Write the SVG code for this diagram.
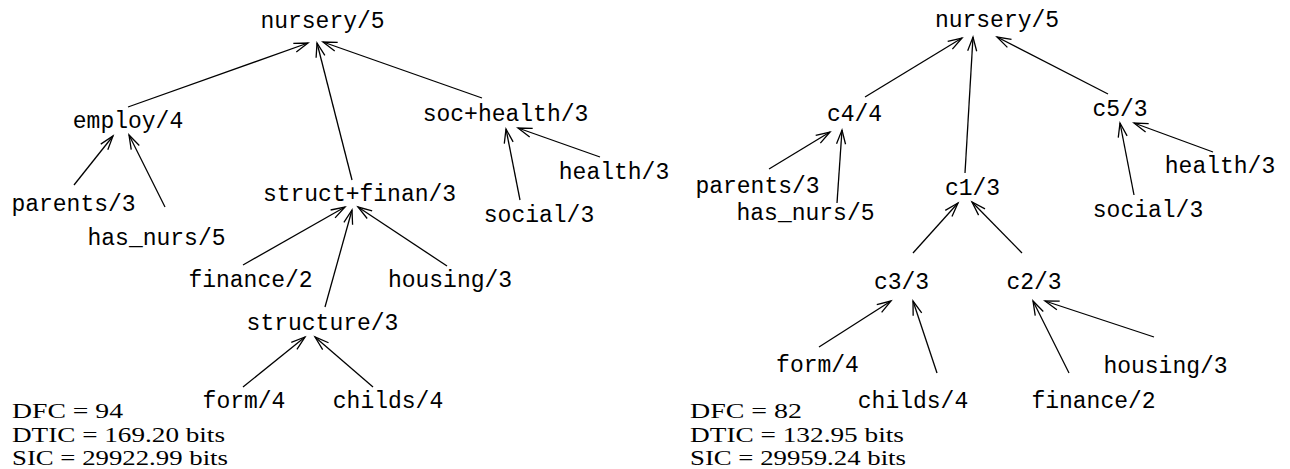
<svg xmlns="http://www.w3.org/2000/svg" width="1290" height="469" viewBox="0 0 1290 469">
<style>
.n{font-family:"Liberation Mono","DejaVu Sans Mono",monospace;font-size:23px;fill:#000;text-anchor:middle}
.s{font-family:"Liberation Serif","DejaVu Serif",serif;font-size:20.5px;fill:#000}
.e line{stroke:#000;stroke-width:1.3;marker-end:url(#ah)}
</style>
<defs>
<marker id="ah" markerUnits="userSpaceOnUse" markerWidth="20" markerHeight="16" viewBox="-16 -8 20 16" refX="0" refY="0" orient="auto" overflow="visible">
<path d="M-14,-4.5 L0,0 L-14,4.5" fill="none" stroke="#000" stroke-width="1.3"/>
</marker>
</defs>
<rect width="1290" height="469" fill="#fff"/>
<g id="connectors" class="e">
<line x1="128" y1="107" x2="308" y2="43"/>
<line x1="352" y1="180" x2="317" y2="43"/>
<line x1="482" y1="98" x2="323" y2="42"/>
<line x1="74" y1="185" x2="113" y2="136"/>
<line x1="165" y1="207" x2="129" y2="135"/>
<line x1="243" y1="265" x2="345" y2="207"/>
<line x1="325" y1="307" x2="352" y2="210"/>
<line x1="447" y1="266" x2="358" y2="207"/>
<line x1="520" y1="200" x2="506" y2="129"/>
<line x1="600" y1="157" x2="518" y2="128"/>
<line x1="243" y1="387" x2="305" y2="337"/>
<line x1="373" y1="387" x2="315" y2="337"/>
<line x1="865" y1="97" x2="962" y2="38"/>
<line x1="965" y1="173" x2="973" y2="37"/>
<line x1="1108" y1="94" x2="997" y2="37"/>
<line x1="769" y1="169" x2="830" y2="132"/>
<line x1="837" y1="203" x2="842" y2="130"/>
<line x1="913" y1="253" x2="958" y2="203"/>
<line x1="1022" y1="253" x2="972" y2="202"/>
<line x1="1134" y1="195" x2="1120" y2="123"/>
<line x1="1213" y1="152" x2="1134" y2="123"/>
<line x1="819" y1="347" x2="891" y2="301"/>
<line x1="937" y1="373" x2="913" y2="301"/>
<line x1="1069" y1="373" x2="1033" y2="301"/>
<line x1="1154" y1="337" x2="1045" y2="301"/>
</g>
<g id="L_nursery"><text class="n" x="322.5" y="28">nursery/5</text></g>
<g id="L_employ"><text class="n" x="128" y="128">employ/4</text></g>
<g id="L_parents"><text class="n" x="73.5" y="211">parents/3</text></g>
<g id="L_has_nurs"><text class="n" x="156.5" y="245">has_nurs/5</text></g>
<g id="L_struct_finan"><text class="n" x="359.5" y="201">struct+finan/3</text></g>
<g id="L_soc_health"><text class="n" x="505.5" y="121">soc+health/3</text></g>
<g id="L_health"><text class="n" x="614" y="179">health/3</text></g>
<g id="L_social"><text class="n" x="539" y="222">social/3</text></g>
<g id="L_finance"><text class="n" x="250.5" y="287">finance/2</text></g>
<g id="L_housing"><text class="n" x="450" y="287">housing/3</text></g>
<g id="L_structure"><text class="n" x="322.5" y="330">structure/3</text></g>
<g id="L_form"><text class="n" x="244" y="408">form/4</text></g>
<g id="L_childs"><text class="n" x="388" y="408">childs/4</text></g>
<g id="L_stats">
<text class="s" x="12" y="418" textLength="111" lengthAdjust="spacingAndGlyphs">DFC = 94</text>
<text class="s" x="12" y="442" textLength="213" lengthAdjust="spacingAndGlyphs">DTIC = 169.20 bits</text>
<text class="s" x="12" y="465" textLength="216" lengthAdjust="spacingAndGlyphs">SIC = 29922.99 bits</text>
</g>
<g id="R_nursery"><text class="n" x="997" y="27">nursery/5</text></g>
<g id="R_c4"><text class="n" x="854.5" y="121">c4/4</text></g>
<g id="R_c1"><text class="n" x="972.5" y="195">c1/3</text></g>
<g id="R_c5"><text class="n" x="1120" y="116">c5/3</text></g>
<g id="R_parents"><text class="n" x="757.5" y="193">parents/3</text></g>
<g id="R_has_nurs"><text class="n" x="805.5" y="220">has_nurs/5</text></g>
<g id="R_health"><text class="n" x="1220" y="173">health/3</text></g>
<g id="R_social"><text class="n" x="1148" y="217">social/3</text></g>
<g id="R_c3"><text class="n" x="901.5" y="289">c3/3</text></g>
<g id="R_c2"><text class="n" x="1034" y="289">c2/3</text></g>
<g id="R_form"><text class="n" x="817.5" y="372">form/4</text></g>
<g id="R_childs"><text class="n" x="913" y="408">childs/4</text></g>
<g id="R_housing"><text class="n" x="1165.5" y="373">housing/3</text></g>
<g id="R_finance"><text class="n" x="1093.5" y="408">finance/2</text></g>
<g id="R_stats">
<text class="s" x="690" y="418" textLength="112" lengthAdjust="spacingAndGlyphs">DFC = 82</text>
<text class="s" x="690" y="442" textLength="214" lengthAdjust="spacingAndGlyphs">DTIC = 132.95 bits</text>
<text class="s" x="690" y="465" textLength="216" lengthAdjust="spacingAndGlyphs">SIC = 29959.24 bits</text>
</g>
</svg>
